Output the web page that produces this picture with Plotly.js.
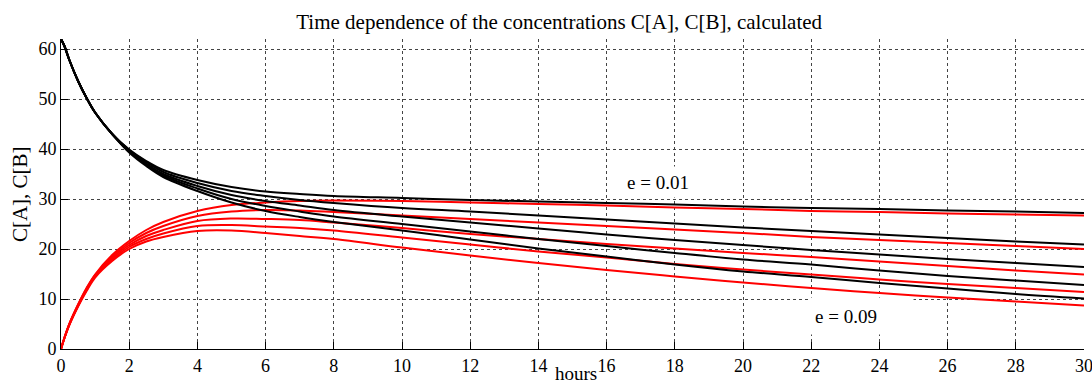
<!DOCTYPE html>
<html>
<head>
<meta charset="utf-8">
<script src="https://cdn.plot.ly/plotly-3.0.1.min.js"></script>
<style>html,body{margin:0;padding:0;background:#fff;}#chart{width:1092px;height:386px;}</style>
</head>
<body>
<div id="chart"></div>
<script>
const hours = [0, 0.1, 0.25, 0.5, 0.75, 1, 1.5, 2, 2.5, 3, 4, 5, 6, 7, 8, 10, 12, 14, 16, 18, 20, 22, 24, 26, 28, 30];
const eValues = ['0.01', '0.03', '0.05', '0.07', '0.09'];

// C[A] (black) for e = 0.01, 0.03, 0.05, 0.07, 0.09
const cA_e01 = [62, 60.6, 57.7, 53.6, 50.2, 47.3, 43.0, 39.9, 37.6, 35.8, 33.8, 32.4, 31.5, 31.0, 30.6, 30.2, 29.8, 29.5, 29.2, 28.9, 28.5, 28.2, 28.0, 27.7, 27.5, 27.2];
const cA_e03 = [62, 60.6, 57.7, 53.6, 50.2, 47.3, 43.0, 39.8, 37.4, 35.4, 33.2, 31.6, 30.6, 29.8, 29.2, 28.2, 27.5, 26.7, 25.9, 25.1, 24.3, 23.6, 22.9, 22.2, 21.5, 20.9];
const cA_e05 = [62, 60.6, 57.7, 53.6, 50.2, 47.3, 43.0, 39.6, 37.1, 35.0, 32.6, 30.8, 29.6, 28.7, 27.8, 26.5, 25.3, 24.1, 22.9, 21.8, 20.8, 19.8, 18.9, 18.0, 17.2, 16.4];
const cA_e07 = [62, 60.6, 57.7, 53.6, 50.2, 47.3, 43.0, 39.5, 36.9, 34.7, 32.1, 30.0, 28.6, 27.5, 26.5, 25.0, 23.5, 22.0, 20.6, 19.2, 17.9, 16.9, 15.7, 14.6, 13.7, 12.8];
const cA_e09 = [62, 60.6, 57.7, 53.6, 50.2, 47.3, 43.0, 39.3, 36.6, 34.4, 31.6, 29.3, 27.6, 26.4, 25.4, 23.7, 21.9, 20.1, 18.5, 16.9, 15.5, 14.4, 13.2, 12.1, 11.0, 10.1];

// C[B] (red) for e = 0.01, 0.03, 0.05, 0.07, 0.09
const cB_e01 = [0, 2.2, 5.1, 8.9, 12.2, 14.9, 18.8, 21.6, 23.8, 25.4, 27.6, 28.8, 29.3, 29.6, 29.7, 29.6, 29.3, 29.0, 28.7, 28.3, 28.0, 27.6, 27.4, 27.1, 26.9, 26.7];
const cB_e03 = [0, 2.2, 5.1, 8.8, 12.1, 14.8, 18.5, 21.2, 23.2, 24.6, 26.6, 27.5, 27.8, 27.7, 27.4, 26.7, 26.0, 25.3, 24.6, 23.9, 23.2, 22.4, 21.8, 21.2, 20.6, 20.0];
const cB_e05 = [0, 2.2, 5.0, 8.7, 11.9, 14.6, 18.2, 20.8, 22.6, 23.8, 25.6, 26.1, 26.0, 25.8, 25.3, 24.2, 23.0, 22.0, 21.0, 20.1, 19.2, 18.4, 17.5, 16.6, 15.7, 14.9];
const cB_e07 = [0, 2.2, 5.0, 8.6, 11.8, 14.5, 17.9, 20.4, 22.0, 23.1, 24.6, 24.8, 24.5, 24.2, 23.7, 22.3, 20.9, 19.5, 18.3, 17.0, 15.9, 14.9, 13.9, 13.0, 12.2, 11.4];
const cB_e09 = [0, 2.2, 4.9, 8.5, 11.6, 14.3, 17.6, 20.0, 21.5, 22.4, 23.6, 23.7, 23.2, 22.6, 22.0, 20.3, 18.7, 17.2, 15.8, 14.5, 13.3, 12.2, 11.2, 10.3, 9.5, 8.7];

const xTicks = [0, 2, 4, 6, 8, 10, 12, 14, 16, 18, 20, 22, 24, 26, 28, 30];
const yTicks = [0, 10, 20, 30, 40, 50, 60];

const seriesA = [cA_e01, cA_e03, cA_e05, cA_e07, cA_e09];
const seriesB = [cB_e01, cB_e03, cB_e05, cB_e07, cB_e09];

const FONT = 'Liberation Serif, Times New Roman, serif';
const traces = [];
for (let i = 0; i < seriesA.length; i++) {
  traces.push({x: hours, y: seriesA[i], mode: 'lines', name: 'C[A], e = ' + eValues[i],
    line: {color: '#000000', width: 2, shape: 'spline', smoothing: 1}});
  traces.push({x: hours, y: seriesB[i], mode: 'lines', name: 'C[B], e = ' + eValues[i],
    line: {color: '#ff0000', width: 2, shape: 'spline', smoothing: 1}});
}

const axisCommon = {
  showgrid: true, gridcolor: '#444', griddash: '3px,3px', gridwidth: 1,
  zeroline: false, showline: true, linecolor: '#000', linewidth: 1,
  ticks: 'inside', ticklen: 7, tickcolor: '#000', tickwidth: 1,
  ticklabeloverflow: 'allow',
  tickfont: {family: FONT, size: 18, color: '#000'}
};

const layout = {
  width: 1092, height: 386,
  margin: {l: 61, r: 8, t: 39, b: 37},
  paper_bgcolor: '#fff', plot_bgcolor: '#fff',
  showlegend: false,
  font: {family: FONT, color: '#000'},
  title: {text: 'Time dependence of the concentrations C[A], C[B], calculated',
    font: {family: FONT, size: 21, color: '#000'},
    x: 0.487, xref: 'paper', xanchor: 'center', y: 0.945, yref: 'container', yanchor: 'middle'},
  xaxis: Object.assign({}, axisCommon, {range: [0, 30], tickvals: xTicks, ticktext: xTicks.map(String)}),
  yaxis: Object.assign({}, axisCommon, {range: [0, 62], tickvals: yTicks, ticktext: yTicks.map(String)}),
  annotations: [
    {text: 'hours', xref: 'paper', yref: 'paper', x: 0.503, y: -0.116, yanchor: 'bottom', xanchor: 'center',
      showarrow: false, borderpad: 0, font: {family: FONT, size: 19, color: '#000'}},
    {text: 'C[A], C[B]', xref: 'paper', yref: 'paper', x: -0.04, xanchor: 'center', y: 0.5, yanchor: 'middle',
      textangle: -90, showarrow: false, font: {family: FONT, size: 21, color: '#000'}},
    {text: 'e = 0.01', xref: 'x', yref: 'y', x: 17.92, y: 33.4, xanchor: 'center', yanchor: 'middle',
      showarrow: false, bgcolor: '#fff', width: 90, height: 20, borderpad: 5, align: 'left',
      font: {family: FONT, size: 19, color: '#000'}},
    {text: 'e = 0.09', xref: 'x', yref: 'y', x: 23.45, y: 6.6, xanchor: 'center', yanchor: 'middle',
      showarrow: false, bgcolor: '#fff', width: 92, height: 24, borderpad: 6, align: 'left',
      font: {family: FONT, size: 19, color: '#000'}}
  ]
};

Plotly.newPlot('chart', traces, layout, {staticPlot: true, displayModeBar: false});
</script>
</body>
</html>
